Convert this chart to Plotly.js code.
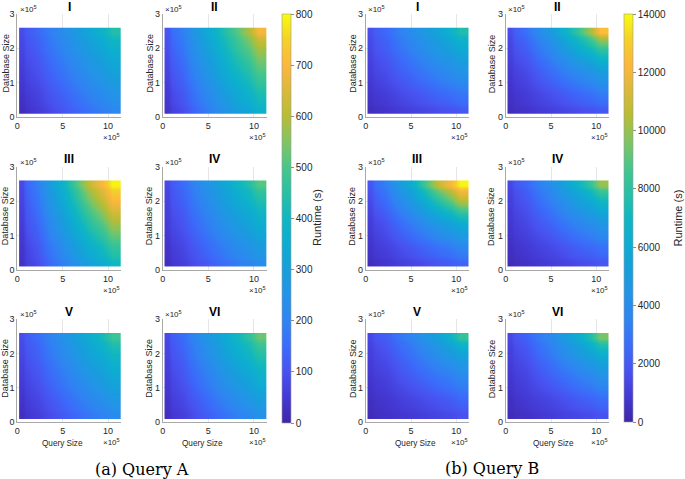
<!DOCTYPE html>
<html><head><meta charset="utf-8">
<script src="https://cdn.plot.ly/plotly-3.0.1.min.js"></script>
<style>body{margin:0;background:#fff}#chart{width:685px;height:479px}</style>
</head><body><div id="chart"></div>
<script>
// ---- data ----
const querySizeEdges = [2e4, 1e5, 3.5e5, 6.5e5, 9.5e5, 1.14e6];
const databaseSizeEdges = [1e4, 4e4, 1e5, 1.7e5, 2.3e5, 2.6e5];
const panelNames = ['I', 'II', 'III', 'IV', 'V', 'VI'];
const xTickVals = [0, 5e5, 10e5];
const xTickText = ['0', '5', '10'];
const yTickVals = [0, 1e5, 2e5, 3e5];
const yTickText = ['0', '1', '2', '3'];
const cbTicksA = [0, 100, 200, 300, 400, 500, 600, 700, 800];
const cbTicksB = [0, 2000, 4000, 6000, 8000, 10000, 12000, 14000];

// Query A runtimes (s); rows = database size (bottom->top), cols = query size
const runtimeA_I = [
  [22, 54, 108, 166, 215],
  [36, 72, 133, 200, 255],
  [55, 98, 170, 249, 313],
  [75, 124, 207, 297, 372],
  [89, 142, 233, 331, 440]];
const runtimeA_II = [
  [38, 93, 188, 290, 375],
  [52, 114, 220, 334, 428],
  [72, 144, 265, 397, 505],
  [93, 174, 311, 459, 583],
  [107, 195, 343, 503, 690]];
const runtimeA_III = [
  [32, 91, 195, 310, 400],
  [42, 110, 232, 365, 470],
  [57, 140, 285, 450, 580],
  [72, 170, 340, 540, 700],
  [82, 190, 380, 620, 790]];
const runtimeA_IV = [
  [27, 62, 120, 184, 237],
  [38, 79, 149, 224, 287],
  [55, 105, 190, 282, 358],
  [71, 131, 231, 340, 431],
  [83, 149, 260, 381, 510]];
const runtimeA_V = [
  [27, 60, 115, 176, 226],
  [40, 78, 143, 213, 271],
  [59, 105, 182, 266, 336],
  [77, 131, 222, 320, 402],
  [90, 149, 249, 358, 480]];
const runtimeA_VI = [
  [27, 63, 125, 191, 246],
  [39, 81, 154, 232, 298],
  [55, 108, 196, 292, 372],
  [72, 134, 239, 353, 447],
  [83, 152, 269, 394, 530]];

// Query B runtimes (s)
const runtimeB_I = [
  [435, 696, 1137, 1614, 2010],
  [683, 1074, 1736, 2451, 3045],
  [1040, 1620, 2600, 3660, 4540],
  [1398, 2166, 3465, 4869, 6035],
  [1645, 2544, 4063, 5706, 7600]];
const runtimeB_II = [
  [400, 700, 1100, 1600, 2000],
  [600, 1000, 1700, 2500, 3200],
  [900, 1500, 2700, 4000, 5200],
  [1300, 2200, 3900, 6200, 8300],
  [1600, 2800, 5000, 8300, 12500]];
const runtimeB_III = [
  [400, 800, 1300, 1900, 2400],
  [700, 1200, 2000, 2900, 3700],
  [1000, 1800, 3200, 4800, 6200],
  [1500, 2700, 4800, 7800, 10500],
  [1900, 3400, 6200, 10800, 13900]];
const runtimeB_IV = [
  [300, 600, 1000, 1500, 1900],
  [500, 900, 1500, 2300, 2900],
  [800, 1400, 2400, 3600, 4600],
  [1100, 1900, 3400, 5300, 7000],
  [1400, 2400, 4200, 6800, 10000]];
const runtimeB_V = [
  [300, 600, 900, 1300, 1700],
  [500, 800, 1300, 1900, 2500],
  [800, 1200, 2100, 3000, 3800],
  [1100, 1700, 2900, 4300, 5600],
  [1400, 2200, 3600, 5400, 8200]];
const runtimeB_VI = [
  [300, 600, 1000, 1400, 1800],
  [500, 900, 1400, 2100, 2700],
  [800, 1300, 2300, 3300, 4300],
  [1100, 1800, 3200, 4900, 6400],
  [1400, 2300, 3900, 6100, 9500]];

const groupA = [runtimeA_I, runtimeA_II, runtimeA_III, runtimeA_IV, runtimeA_V, runtimeA_VI];
const groupB = [runtimeB_I, runtimeB_II, runtimeB_III, runtimeB_IV, runtimeB_V, runtimeB_VI];

// ---- styling / layout ----
const parula = [
  [0.0, '#3e26a8'], [0.0625, '#4439d4'], [0.125, '#4852f0'], [0.1875, '#3b6cfa'],
  [0.25, '#2f84f2'], [0.3125, '#2493e8'], [0.375, '#179fdb'], [0.4375, '#0eacd2'],
  [0.5, '#10b6c2'], [0.5625, '#28c0a5'], [0.625, '#48c68a'], [0.6875, '#82c462'],
  [0.75, '#b7bd35'], [0.8125, '#dab93a'], [0.875, '#fcb73c'], [0.9375, '#f4d12a'],
  [1.0, '#f9fb0e']];

const W = 685, H = 479;
const colX = [[17.3, 120.7], [162.7, 266.7], [365.7, 469], [505.7, 609]];
const rowY = [[14, 117], [166.7, 270], [319.3, 422]];
const ytitleX = [5, 149, 352.3, 491.7];
const qsizeX = [63, 202, 415, 553];
const fx = p => p / W, fy = p => 1 - p / H;
const FONT = 'Liberation Sans, Arial, sans-serif';

const data = [];
const cbCommon = {xref: 'paper', yanchor: 'top', lenmode: 'pixels', thickness: 9, thicknessmode: 'pixels',
  xpad: 0, ypad: 0, outlinewidth: 0.6, outlinecolor: '#9a9a9a', ticks: 'outside',
  ticklen: 3, tickcolor: '#8a8a8a', tickfont: {size: 10, family: FONT, color: '#262626'},
  title: {text: ''}};
const layout = {
  width: W, height: H, margin: {l: 0, r: 0, t: 0, b: 0},
  paper_bgcolor: '#fff', plot_bgcolor: 'rgba(0,0,0,0)',
  font: {family: FONT, color: '#262626'},
  showlegend: false, annotations: [],
  coloraxis: {cmin: 0, cmax: 800, colorscale: parula,
    colorbar: Object.assign({}, cbCommon, {x: fx(281.7), xanchor: 'left', y: fy(14), len: 409,
      tickvals: cbTicksA, ticktext: cbTicksA.map(String)})},
  coloraxis2: {cmin: 0, cmax: 14000, colorscale: parula,
    colorbar: Object.assign({}, cbCommon, {x: fx(624), xanchor: 'left', y: fy(14), len: 408,
      tickvals: cbTicksB, ticktext: cbTicksB.map(String)})}
};

function ann(text, x, y, opts) {
  layout.annotations.push(Object.assign({text: text, x: fx(x), y: fy(y), xref: 'paper', yref: 'paper',
    xanchor: 'center', yanchor: 'middle', showarrow: false,
    font: {size: 8, family: FONT, color: '#262626'}}, opts || {}));
}

[groupA, groupB].forEach((grp, g) => {
  grp.forEach((z, k) => {
    const n = g * 6 + k + 1;
    const row = Math.floor(k / 2), col = g * 2 + (k % 2);
    const xs = colX[col], ys = rowY[row];
    const axBase = {showgrid: true, gridcolor: '#e6e6e6', gridwidth: 1, showline: true,
      linecolor: '#a8a8a8', linewidth: 1, zeroline: false, ticks: '', fixedrange: true,
      tickfont: {size: 9, family: FONT, color: '#262626'}};
    layout['xaxis' + n] = Object.assign({}, axBase, {domain: [fx(xs[0]), fx(xs[1])],
      range: [0, 1.14e6], tickvals: xTickVals, ticktext: xTickText, anchor: 'y' + n});
    layout['yaxis' + n] = Object.assign({}, axBase, {domain: [fy(ys[1]), fy(ys[0])],
      range: [0, 3e5], tickvals: yTickVals, ticktext: yTickText, anchor: 'x' + n});
    data.push({type: 'heatmap', x: querySizeEdges, y: databaseSizeEdges, z: z,
      zsmooth: 'best', coloraxis: g === 0 ? 'coloraxis' : 'coloraxis2',
      xaxis: 'x' + n, yaxis: 'y' + n, hoverinfo: 'skip'});
    const cx = (xs[0] + xs[1]) / 2;
    ann('<b>' + panelNames[k] + '</b>', cx, ys[0] - 7.5, {font: {size: 12, family: FONT, color: '#000'}});
    ann('×10<sup>5</sup>', xs[0] + 0.5, ys[0] - 5, {xanchor: 'left'});
    ann('×10<sup>5</sup>', xs[1] + 1, ys[1] + 20, {xanchor: 'right'});
    ann('Database Size', ytitleX[col], (ys[0] + ys[1]) / 2 - 2, {textangle: -90, font: {size: 9, family: FONT, color: '#262626'}});
    if (row === 2) ann('Query Size', qsizeX[col], ys[1] + 21, {font: {size: 8.2, family: FONT, color: '#262626'}});
  });
});

ann('Runtime (s)', 317, 218, {textangle: -90, font: {size: 11, family: FONT, color: '#262626'}});
ann('Runtime (s)', 677.5, 218, {textangle: -90, font: {size: 11, family: FONT, color: '#262626'}});
ann('(a) Query A', 142, 469, {font: {size: 16, family: 'DejaVu Serif, serif', color: '#000'}});
ann('(b) Query B', 491.7, 468, {font: {size: 16, family: 'DejaVu Serif, serif', color: '#000'}});

Plotly.newPlot('chart', data, layout, {staticPlot: true, displayModeBar: false});
</script></body></html>
